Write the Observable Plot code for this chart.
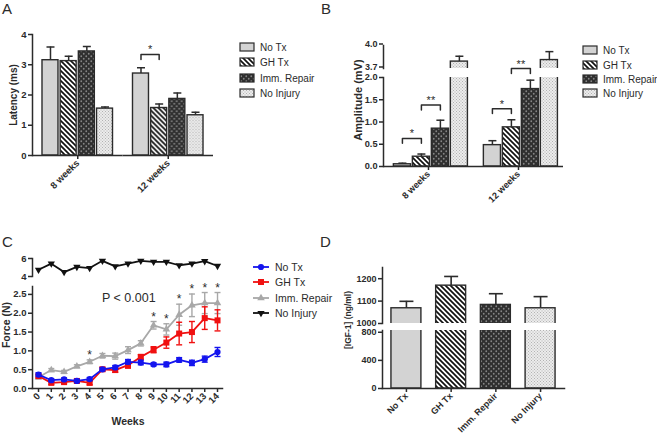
<!DOCTYPE html>
<html>
<head>
<meta charset="utf-8">
<script src="https://cdn.jsdelivr.net/npm/d3@7"></script>
<script src="https://cdn.jsdelivr.net/npm/@observablehq/plot@0.6"></script>
<style>
html,body{margin:0;padding:0;background:#fff;}
#wrap{position:relative;width:657px;height:435px;overflow:hidden;background:#fff;}
</style>
</head>
<body>
<svg width="0" height="0" style="position:absolute">
 <defs>
  <pattern id="pStripe" width="5" height="5" patternUnits="userSpaceOnUse">
    <rect width="5" height="5" fill="#fff"/>
    <path d="M0,0L5,5M-1,4L1,6M4,-1L6,1" stroke="#111" stroke-width="1.7"/>
  </pattern>
  <pattern id="pDark" width="5" height="5" patternUnits="userSpaceOnUse">
    <rect width="5" height="5" fill="#2f2f2f"/>
    <circle cx="1.25" cy="1.25" r="0.9" fill="#858585"/>
    <circle cx="3.75" cy="3.75" r="0.9" fill="#858585"/>
  </pattern>
  <pattern id="pLight" width="3" height="3" patternUnits="userSpaceOnUse">
    <rect width="3" height="3" fill="#ececec"/>
    <rect x="0" y="0" width="1" height="1" fill="#b3b3b3"/>
    <rect x="1.5" y="1.5" width="1" height="1" fill="#b3b3b3"/>
  </pattern>
 </defs>
</svg>
<div id="wrap"></div>
<script>
// ---------------- data ----------------
const seriesNames = ["No Tx", "GH Tx", "Imm. Repair", "No Injury"];
const timeGroups = ["8 weeks", "12 weeks"];

// A: latency (ms)
const latency8 = [3.15, 3.12, 3.44, 1.55];
const latency8Err = [0.44, 0.16, 0.16, 0.05];
const latency12 = [2.71, 1.57, 1.87, 1.33];
const latency12Err = [0.19, 0.13, 0.2, 0.1];
const latencySig = [{group: "12 weeks", from: "No Tx", to: "GH Tx", level: 3.34, label: "*"}];

// B: amplitude (mV)
const amp8 = [0.05, 0.22, 0.85, 3.79];
const amp8Err = [0.025, 0.06, 0.19, 0.07];
const amp12 = [0.48, 0.88, 1.74, 3.81];
const amp12Err = [0.1, 0.17, 0.2, 0.11];
const ampSig = [
  {group: "8 weeks", from: "No Tx", to: "GH Tx", level: 0.63, label: "*"},
  {group: "8 weeks", from: "GH Tx", to: "Imm. Repair", level: 1.38, label: "**"},
  {group: "12 weeks", from: "No Tx", to: "GH Tx", level: 1.30, label: "*"},
  {group: "12 weeks", from: "GH Tx", to: "Imm. Repair", level: 2.2, label: "**"}
];

// C: force (N) over weeks
const weeks = [0, 1, 2, 3, 4, 5, 6, 7, 8, 9, 10, 11, 12, 13, 14];
const forceNoTx = [0.37, 0.22, 0.24, 0.2, 0.25, 0.51, 0.56, 0.71, 0.69, 0.64, 0.64, 0.76, 0.68, 0.78, 0.97];
const forceNoTxErr = [0.05, 0.04, 0.04, 0.04, 0.04, 0.04, 0.05, 0.06, 0.06, 0.04, 0.06, 0.06, 0.07, 0.08, 0.12];
const forceGH = [0.33, 0.15, 0.17, 0.2, 0.15, 0.51, 0.49, 0.62, 0.84, 1.03, 1.22, 1.46, 1.5, 1.87, 1.81];
const forceGHErr = [0.04, 0.04, 0.04, 0.04, 0.05, 0.05, 0.06, 0.08, 0.06, 0.08, 0.15, 0.3, 0.28, 0.3, 0.28];
const forceImm = [0.3, 0.49, 0.44, 0.59, 0.71, 0.87, 0.86, 1.02, 1.2, 1.68, 1.57, 1.96, 2.21, 2.27, 2.27];
const forceImmErr = [0.04, 0.04, 0.04, 0.04, 0.05, 0.06, 0.08, 0.09, 0.07, 0.1, 0.15, 0.28, 0.3, 0.28, 0.28];
const forceNoInjury = [4.75, 5.43, 4.49, 5.06, 4.94, 5.74, 5.13, 5.43, 5.74, 5.62, 5.62, 5.25, 5.43, 5.7, 5.17];
const starWeeks = [4, 9, 10, 11, 12, 13, 14];

// D: serum IGF-1 (ng/ml)
const igf1 = [1068, 1169, 1083, 1068];
const igf1Err = [31, 41, 50, 52];

// ---------------- styling ----------------
const W = 657, H = 435;
const FONT = "'Liberation Sans', Arial, Helvetica, sans-serif";
const INK = "#2b2b2b";
const fillOf = {"No Tx": "#d3d3d3", "GH Tx": "url(#pStripe)", "Imm. Repair": "url(#pDark)", "No Injury": "url(#pLight)"};
const BLUE = "#1414ee", RED = "#f01010", GREY = "#a8a8a8", BLACK = "#111";
const capSymbol = {draw(ctx, size) { const r = Math.sqrt(size / Math.PI); ctx.moveTo(-r, 0); ctx.lineTo(r, 0); }};
const plotStyle = {background: "transparent", fontFamily: FONT, fontSize: "9.5px", fontWeight: "bold", color: INK, overflow: "visible"};
const box = (left, right, top, bottom) => ({width: W, height: H, marginLeft: left, marginRight: W - right, marginTop: top, marginBottom: H - bottom});
const wrap = document.getElementById("wrap");
function mount(el) { el.style.position = "absolute"; el.style.left = "0px"; el.style.top = "0px"; wrap.appendChild(el); }

function groupedRows(a, aErr, b, bErr) {
  return [
    ...seriesNames.map((s, j) => ({group: timeGroups[0], series: s, value: a[j], err: aErr[j]})),
    ...seriesNames.map((s, j) => ({group: timeGroups[1], series: s, value: b[j], err: bErr[j]}))
  ];
}

function groupedSegment({rows, sig, yDomain, yTicks, yFormat, frame, fxAxis, xOpts, capR, starDx, drop, fontSize = "9.5px", tickDy = 0}) {
  const marks = [];
  seriesNames.forEach(s => marks.push(Plot.barY(rows.filter(d => d.series === s),
    {fx: "group", x: "series", y: "value", fill: fillOf[s], stroke: INK, strokeWidth: 1.4, clip: true})));
  marks.push(Plot.ruleX(rows, {fx: "group", x: "series", y1: "value", y2: d => d.value + d.err, stroke: INK, strokeWidth: 1.5, clip: true}));
  marks.push(Plot.dot(rows, {fx: "group", x: "series", y: d => d.value + d.err, symbol: capSymbol, r: capR, stroke: INK, strokeWidth: 1.5, fill: "none", clip: true}));
  if (sig) {
    const pts = sig.flatMap((b, i) => [
      {id: i, group: b.group, series: b.from, y: b.level - drop},
      {id: i, group: b.group, series: b.from, y: b.level},
      {id: i, group: b.group, series: b.to, y: b.level},
      {id: i, group: b.group, series: b.to, y: b.level - drop}]);
    marks.push(Plot.line(pts, {fx: "group", x: "series", y: "y", z: "id", stroke: INK, strokeWidth: 1.5}));
    marks.push(Plot.text(sig, {fx: "group", x: "from", y: "level", text: "label", dx: starDx, dy: -1, lineAnchor: "bottom", fontSize: 11, fontWeight: "normal", fill: INK}));
  }
  marks.push(Plot.axisY({ticks: yTicks, tickFormat: yFormat, tickSize: 4, tickPadding: 2, strokeWidth: 1.5, label: null}));
  if (tickDy) marks[marks.length - 1] = Plot.axisY({ticks: yTicks, tickFormat: yFormat, tickSize: 4, tickPadding: 2, strokeWidth: 1.5, label: null, dy: tickDy});
  marks.push(Plot.frame({anchor: "left", facet: "super", stroke: INK, strokeWidth: 1.5}));
  if (fxAxis) {
    marks.push(Plot.ruleY([yDomain[0]], {stroke: INK, strokeWidth: 1.5}));
    marks.push(Plot.axisFx({anchor: "bottom", tickSize: 4, tickRotate: -45, tickPadding: 2, strokeWidth: 1.5, label: null}));
  }
  return Plot.plot({
    ...frame, style: {...plotStyle, fontSize},
    fx: {domain: timeGroups, padding: 0, round: false, label: null, ...(fxAxis ? {} : {axis: null})},
    x: {domain: seriesNames, ...xOpts, round: false, axis: null},
    y: {domain: yDomain},
    marks
  });
}

// ---------------- Panel A ----------------
const rowsA = groupedRows(latency8, latency8Err, latency12, latency12Err);
mount(groupedSegment({rows: rowsA, sig: latencySig, yDomain: [0, 4], yTicks: [0, 1, 2, 3, 4], yFormat: d3.format("d"),
  frame: box(32, 213, 34, 155), fxAxis: true, xOpts: {paddingInner: 0.12, paddingOuter: 0.55}, capR: 4, starDx: 9.1, drop: 0.17}));

// ---------------- Panel B (broken axis) ----------------
const rowsB = groupedRows(amp8, amp8Err, amp12, amp12Err);
const xB = {paddingInner: 0.1, paddingOuter: 0.42, align: 0.65};
mount(groupedSegment({rows: rowsB, sig: ampSig, yDomain: [0, 2], yTicks: [0, 0.5, 1, 1.5, 2], yFormat: d3.format(".1f"),
  frame: box(383, 563, 77, 166), fxAxis: true, xOpts: xB, capR: 4, starDx: 9.5, drop: 0.11, fontSize: "9.2px"}));
mount(groupedSegment({rows: rowsB, sig: null, yDomain: [3.7, 4.0], yTicks: [3.7, 4.0], yFormat: d3.format(".1f"),
  frame: box(383, 563, 45, 68), fxAxis: false, xOpts: xB, capR: 4, fontSize: "9px", tickDy: -1.5}));

// ---------------- Panel C (broken axis) ----------------
const cRows = (vals, errs) => weeks.map((w, i) => ({week: w, value: vals[i], err: errs[i]}));
const forceSeries = [
  {rows: cRows(forceImm, forceImmErr), color: GREY, symbol: "triangle", r: 2.8},
  {rows: cRows(forceGH, forceGHErr), color: RED, symbol: "square", r: 3.4},
  {rows: cRows(forceNoTx, forceNoTxErr), color: BLUE, symbol: "circle", r: 3.1}
];
const xC = {domain: [-0.47, 14.39]};
const cMarks = [];
for (const s of forceSeries) {
  cMarks.push(Plot.ruleX(s.rows, {x: "week", y1: d => d.value - d.err, y2: d => d.value + d.err, stroke: s.color, strokeWidth: 1.4}));
  cMarks.push(Plot.dot(s.rows, {x: "week", y: d => d.value + d.err, symbol: capSymbol, r: 3, stroke: s.color, strokeWidth: 1.4, fill: "none"}));
  cMarks.push(Plot.dot(s.rows, {x: "week", y: d => d.value - d.err, symbol: capSymbol, r: 3, stroke: s.color, strokeWidth: 1.4, fill: "none"}));
  cMarks.push(Plot.line(s.rows, {x: "week", y: "value", stroke: s.color, strokeWidth: 1.8}));
  cMarks.push(Plot.dot(s.rows, {x: "week", y: "value", symbol: s.symbol, r: s.r, fill: s.color, stroke: "none"}));
}
const starRows = starWeeks.map(w => ({week: w, top: forceImm[w] + forceImmErr[w]}));
cMarks.push(Plot.text(starRows, {x: "week", y: "top", text: () => "*", lineAnchor: "bottom", dy: -1, fontSize: 12, fontWeight: "normal", fill: INK}));
cMarks.push(Plot.axisY({ticks: [0, 0.5, 1, 1.5, 2, 2.5], tickFormat: d3.format(".1f"), tickSize: 4, tickPadding: 2, strokeWidth: 1.5, label: null}));
cMarks.push(Plot.axisX({ticks: weeks, tickFormat: d => String(d), tickSize: 4, tickPadding: 2, tickRotate: -45, strokeWidth: 1.5, label: null}));
cMarks.push(Plot.frame({anchor: "left", stroke: INK, strokeWidth: 1.5}));
cMarks.push(Plot.frame({anchor: "bottom", stroke: INK, strokeWidth: 1.5}));
mount(Plot.plot({...box(32, 222, 286, 388), style: plotStyle, x: xC, y: {domain: [0, 2.71]}, marks: cMarks}));

const noInjRows = weeks.map((w, i) => ({week: w, value: forceNoInjury[i]}));
mount(Plot.plot({...box(32, 222, 258, 276), style: plotStyle, x: {...xC, axis: null}, y: {domain: [4, 6]},
  marks: [
    Plot.line(noInjRows, {x: "week", y: "value", stroke: BLACK, strokeWidth: 1.8}),
    Plot.dot(noInjRows, {x: "week", y: "value", symbol: "triangle", rotate: 180, r: 2.7, fill: BLACK, stroke: "none"}),
    Plot.axisY({ticks: [4, 6], tickFormat: d3.format("d"), tickSize: 4, tickPadding: 2, strokeWidth: 1.5, label: null}),
    Plot.frame({anchor: "left", stroke: INK, strokeWidth: 1.5})
  ]}));

// ---------------- Panel D (broken axis) ----------------
const rowsD = seriesNames.map((s, j) => ({series: s, value: igf1[j], err: igf1Err[j]}));
const xD = {domain: seriesNames, paddingInner: 0.33, paddingOuter: 0.2, round: false};
function dSegment(yDomain, yTicks, frame, withX) {
  const marks = [];
  seriesNames.forEach(s => marks.push(Plot.barY(rowsD.filter(d => d.series === s),
    {x: "series", y: "value", fill: fillOf[s], stroke: INK, strokeWidth: 1.4, clip: true})));
  marks.push(Plot.ruleX(rowsD, {x: "series", y1: "value", y2: d => d.value + d.err, stroke: INK, strokeWidth: 1.6, clip: true}));
  marks.push(Plot.dot(rowsD, {x: "series", y: d => d.value + d.err, symbol: capSymbol, r: 7, stroke: INK, strokeWidth: 1.6, fill: "none", clip: true}));
  marks.push(Plot.axisY({ticks: yTicks, tickFormat: d3.format("d"), tickSize: 4, tickPadding: 2, strokeWidth: 1.5, label: null}));
  marks.push(Plot.frame({anchor: "left", stroke: INK, strokeWidth: 1.5}));
  if (withX) {
    marks.push(Plot.frame({anchor: "bottom", stroke: INK, strokeWidth: 1.5}));
    marks.push(Plot.axisX({tickSize: 4, tickPadding: 2, tickRotate: -45, strokeWidth: 1.5, label: null}));
  }
  return Plot.plot({...frame, style: {...plotStyle, fontSize: "9px"}, x: withX ? xD : {...xD, axis: null}, y: {domain: yDomain}, marks});
}
mount(dSegment([0, 825], [0, 400, 800], box(382, 564, 330, 388), true));
mount(dSegment([1000, 1250], [1000, 1100, 1200], box(382, 564, 267, 323), false));

// ---------------- labels & legends ----------------
const ov = d3.create("svg").attr("width", W).attr("height", H).style("font-family", FONT);
function txt(x, y, s, {size = 10, weight = "normal", rotate = 0, anchor = "start"} = {}) {
  ov.append("text").attr("transform", `translate(${x},${y}) rotate(${rotate})`)
    .attr("text-anchor", anchor).attr("font-size", size).attr("font-weight", weight).attr("fill", INK).text(s);
}
txt(2, 14, "A", {size: 15}); txt(321, 14, "B", {size: 15});
txt(2, 247, "C", {size: 15}); txt(320, 247, "D", {size: 15});
txt(17, 95, "Latency (ms)", {size: 10, weight: "bold", rotate: -90, anchor: "middle"});
txt(362, 100, "Amplitude (mV)", {size: 11, weight: "bold", rotate: -90, anchor: "middle"});
txt(9.5, 325, "Force (N)", {size: 10.5, weight: "bold", rotate: -90, anchor: "middle"});
txt(351, 320, "[IGF-1] (ng/ml)", {size: 8.5, weight: "bold", rotate: -90, anchor: "middle"});
txt(128, 425, "Weeks", {size: 10.5, weight: "bold", anchor: "middle"});
txt(102, 302, "P < 0.001", {size: 12.5});

function patternLegend(x, tx, ys) {
  seriesNames.forEach((s, i) => {
    ov.append("rect").attr("x", x).attr("y", ys[i] - 4).attr("width", 14).attr("height", 8)
      .attr("fill", fillOf[s]).attr("stroke", INK).attr("stroke-width", 1.2);
    txt(tx, ys[i] + 3.6, s, {size: 10});
  });
}
patternLegend(240, 260, [47, 62, 78, 93]);
patternLegend(583, 603, [50, 65, 79, 93]);

const cLegend = [
  {color: BLUE, sym: d3.symbolCircle, r: 3.1, rot: 0},
  {color: RED, sym: d3.symbolSquare, r: 3.4, rot: 0},
  {color: GREY, sym: d3.symbolTriangle, r: 2.8, rot: 0},
  {color: BLACK, sym: d3.symbolTriangle, r: 2.7, rot: 180}
];
[267, 282, 298, 313].forEach((y, i) => {
  const d = cLegend[i];
  ov.append("line").attr("x1", 253).attr("x2", 269).attr("y1", y).attr("y2", y).attr("stroke", d.color).attr("stroke-width", 1.8);
  ov.append("path").attr("d", d3.symbol(d.sym, Math.PI * d.r * d.r)()).attr("transform", `translate(261,${y}) rotate(${d.rot})`).attr("fill", d.color);
  txt(275, y + 3.7, seriesNames[i], {size: 10.5});
});
mount(ov.node());
</script>
</body>
</html>
